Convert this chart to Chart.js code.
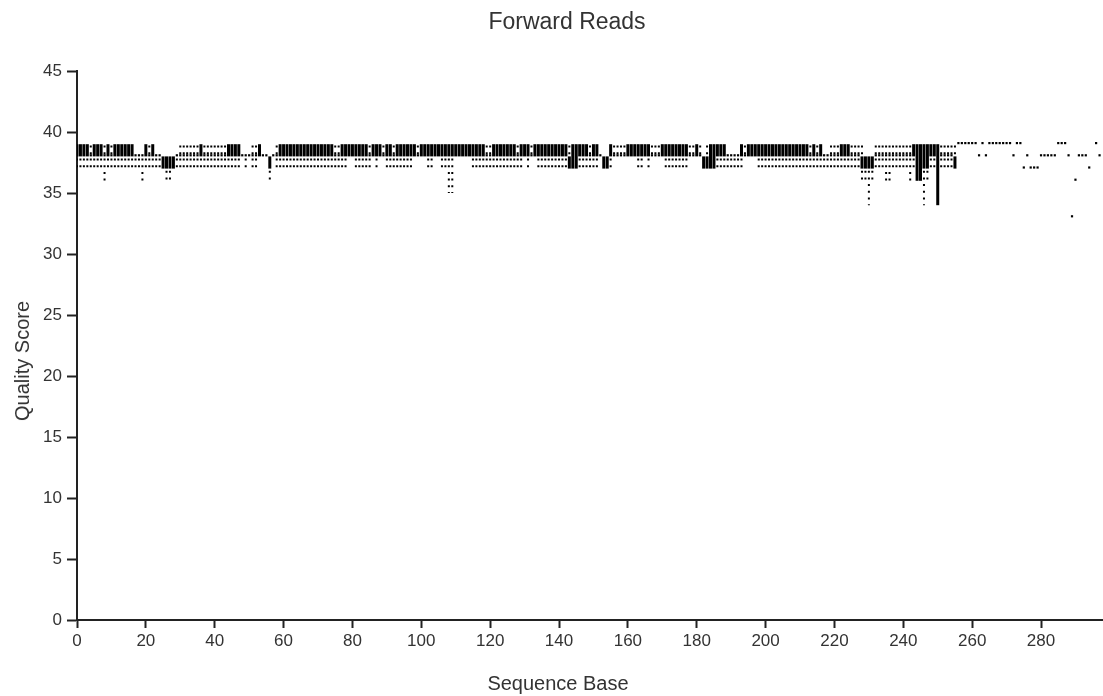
<!DOCTYPE html>
<html>
<head>
<meta charset="utf-8">
<title>Forward Reads</title>
<script src="https://cdn.jsdelivr.net/npm/chart.js@4.4.1/dist/chart.umd.min.js"></script>
<style>
  html, body { margin: 0; padding: 0; background: #fff; }
  #wrap { position: relative; width: 1103px; height: 696px; overflow: hidden;
          font-family: "Liberation Sans", Arial, sans-serif; color: #333; }
  #chart { position: absolute; left: 0; top: 0; }
  .t { position: absolute; white-space: nowrap; line-height: 1; }
  #title  { left: 567px; top: 10px;  font-size: 23px; transform: translateX(-50%); }
  #xtitle { left: 558px; top: 673px; font-size: 20px; transform: translateX(-50%); }
  #ytitle { left: 21.5px; top: 361px; font-size: 20px; transform: translate(-50%, -50%) rotate(-90deg); }
</style>
</head>
<body>
<div id="wrap">
  <canvas id="chart" width="1103" height="696"></canvas>
  <div class="t" id="title">Forward Reads</div>
  <div class="t" id="xtitle">Sequence Base</div>
  <div class="t" id="ytitle">Quality Score</div>
</div>
<script>
// Per-base quality summary: one entry per sequence position (index = base 0..297).
// boxLow/boxHigh: lower and upper quartile, whiskerLow/whiskerHigh: min and max score.

const boxLow = [
  38,38,38,38,38,38,38,38,38,38, 38,38,38,38,38,38,38,38,38,38,
  38,38,38,38,38,37,37,37,37,38, 38,38,38,38,38,38,38,38,38,38,
  38,38,38,38,38,38,38,38,38,38, 38,38,38,38,38,38,37,38,38,38,
  38,38,38,38,38,38,38,38,38,38, 38,38,38,38,38,38,38,38,38,38,
  38,38,38,38,38,38,38,38,38,38, 38,38,38,38,38,38,38,38,38,38,
  38,38,38,38,38,38,38,38,38,38, 38,38,38,38,38,38,38,38,38,38,
  38,38,38,38,38,38,38,38,38,38, 38,38,38,38,38,38,38,38,38,38,
  38,38,38,37,37,37,38,38,38,38, 38,38,38,37,37,38,38,38,38,38,
  38,38,38,38,38,38,38,38,38,38, 38,38,38,38,38,38,38,38,38,38,
  38,38,37,37,37,37,38,38,38,38, 38,38,38,38,38,38,38,38,38,38,
  38,38,38,38,38,38,38,38,38,38, 38,38,38,38,38,38,38,38,38,38,
  38,38,38,38,38,38,38,38,37,37, 37,37,38,38,38,38,38,38,38,38,
  38,38,38,38,36,36,37,37,38,38, 34,38,38,38,38,37,39,39,39,39,
  39,39,38,39,38,39,39,39,39,39, 39,39,38,39,39,37,38,37,37,37,
  38,38,38,38,38,39,39,39,38,33, 36,38,38,38,37,null,39,38
];

const boxHigh = [
  39,39,39,39,38,39,39,39,38,39, 38,39,39,39,39,39,39,38,38,38,
  39,38,39,38,38,38,38,38,38,38, 38,38,38,38,38,38,39,38,38,38,
  38,38,38,38,39,39,39,39,38,38, 38,38,38,39,38,38,38,38,38,39,
  39,39,39,39,39,39,39,39,39,39, 39,39,39,39,39,38,38,39,39,39,
  39,39,39,39,39,38,39,39,39,38, 39,39,38,39,39,39,39,39,39,38,
  39,39,39,39,39,39,39,39,39,39, 39,39,39,39,39,39,39,39,39,38,
  38,39,39,39,39,39,39,39,38,39, 39,39,38,39,39,39,39,39,39,39,
  39,39,39,38,39,39,39,39,39,38, 39,39,38,38,38,39,38,38,38,38,
  39,39,39,39,39,39,39,38,38,38, 39,39,39,39,39,39,39,39,38,38,
  39,38,38,38,39,39,39,39,39,38, 38,38,38,39,38,39,39,39,39,39,
  39,39,39,39,39,39,39,39,39,39, 39,39,39,38,39,38,39,38,38,38,
  38,38,39,39,39,38,38,38,38,38, 38,38,38,38,38,38,38,38,38,38,
  38,38,38,39,39,39,39,39,39,39, 39,38,38,38,38,38,39,39,39,39,
  39,39,38,39,38,39,39,39,39,39, 39,39,38,39,39,37,38,37,37,37,
  38,38,38,38,38,39,39,39,38,33, 36,38,38,38,37,null,39,38
];

const whiskerLow = [
  37,37,37,37,37,37,37,37,36,37, 37,37,37,37,37,37,37,37,37,36,
  37,37,37,37,37,37,36,36,37,37, 37,37,37,37,37,37,37,37,37,37,
  37,37,37,37,37,37,37,37,38,37, 38,37,37,38,38,38,36,38,37,37,
  37,37,37,37,37,37,37,37,37,37, 37,37,37,37,37,37,37,37,37,38,
  38,37,37,37,37,37,38,37,38,38, 37,37,37,37,37,37,37,37,38,38,
  38,38,37,37,38,38,37,37,35,35, 38,38,38,38,38,37,37,37,37,37,
  37,37,37,37,37,37,37,37,37,37, 38,37,38,38,37,37,37,37,37,37,
  37,37,37,37,37,37,37,37,37,37, 37,37,38,37,37,37,38,38,38,38,
  38,38,38,37,37,38,37,38,38,38, 38,37,37,37,37,37,37,37,38,38,
  38,38,37,37,37,37,37,37,37,37, 37,37,37,37,38,38,38,38,37,37,
  37,37,37,37,37,37,37,37,37,37, 37,37,37,37,37,37,37,37,37,37,
  37,37,37,37,37,37,37,37,36,36, 34,36,37,37,37,36,36,37,37,37,
  37,37,36,37,36,36,34,36,37,37, 34,37,37,37,37,37,39,39,39,39,
  39,39,38,39,38,39,39,39,39,39, 39,39,38,39,39,37,38,37,37,37,
  38,38,38,38,38,39,39,39,38,33, 36,38,38,38,37,null,39,38
];

const whiskerHigh = [
  39,39,39,39,39,39,39,39,39,39, 39,39,39,39,39,39,39,38,38,38,
  39,39,39,38,38,38,38,38,38,38, 39,39,39,39,39,39,39,39,39,39,
  39,39,39,39,39,39,39,39,38,38, 38,39,39,39,38,38,38,38,39,39,
  39,39,39,39,39,39,39,39,39,39, 39,39,39,39,39,39,39,39,39,39,
  39,39,39,39,39,39,39,39,39,39, 39,39,39,39,39,39,39,39,39,39,
  39,39,39,39,39,39,39,39,39,39, 39,39,39,39,39,39,39,39,39,39,
  39,39,39,39,39,39,39,39,39,39, 39,39,39,39,39,39,39,39,39,39,
  39,39,39,39,39,39,39,39,39,39, 39,39,38,38,38,39,39,39,39,39,
  39,39,39,39,39,39,39,39,39,39, 39,39,39,39,39,39,39,39,39,39,
  39,39,38,39,39,39,39,39,39,38, 38,38,38,39,39,39,39,39,39,39,
  39,39,39,39,39,39,39,39,39,39, 39,39,39,39,39,39,39,38,38,39,
  39,39,39,39,39,39,39,39,39,38, 38,38,39,39,39,39,39,39,39,39,
  39,39,39,39,39,39,39,39,39,39, 39,39,39,39,39,39,39,39,39,39,
  39,39,38,39,38,39,39,39,39,39, 39,39,38,39,39,37,38,37,37,37,
  38,38,38,38,38,39,39,39,38,33, 36,38,38,38,37,null,39,38
];

// Axis ranges and tick steps
const xRange = [0, 298];
const yRange = [0, 45];
const xStep = 20;
const yStep = 5;

// Boxes with a spread as floating bars, single-score positions as small marks,
// whiskers as dashed vertical line pieces separated by gaps
const boxes = [];
const marks = [];
const whiskers = [];
boxLow.forEach((q1, i) => {
  if (q1 === null) return;
  const q3 = boxHigh[i];
  (q3 > q1 ? boxes : marks).push({ x: i, y: [q1, q3] });
  if (whiskerLow[i] < q1) {
    whiskers.push({ x: i, y: q1 }, { x: i, y: whiskerLow[i] }, { x: i, y: null });
  }
  if (whiskerHigh[i] > q3) {
    whiskers.push({ x: i, y: q3 }, { x: i, y: whiskerHigh[i] }, { x: i, y: null });
  }
});

const tickFont = { family: "'Liberation Sans', Arial, sans-serif", size: 17 };
const inkColor = '#222';

new Chart(document.getElementById('chart'), {
  type: 'bar',
  data: {
    datasets: [
      {
        type: 'bar',
        data: boxes,
        backgroundColor: '#000',
        borderWidth: 0,
        barThickness: 3,
        inflateAmount: 0,
        grouped: false
      },
      {
        type: 'bar',
        data: marks,
        backgroundColor: '#000',
        borderWidth: 0,
        barThickness: 2.2,
        minBarLength: 2.2,
        inflateAmount: 0,
        grouped: false
      },
      {
        type: 'line',
        data: whiskers,
        borderColor: '#000',
        borderWidth: 2,
        borderDash: [2, 4.7],
        borderDashOffset: 4.6,
        borderCapStyle: 'butt',
        pointRadius: 0,
        spanGaps: false,
        tension: 0
      }
    ]
  },
  options: {
    responsive: false,
    animation: false,
    events: [],
    layout: { padding: { top: 71, right: 0, bottom: 0, left: 0 } },
    plugins: {
      legend: { display: false },
      tooltip: { enabled: false },
      title: { display: false }
    },
    scales: {
      x: {
        type: 'linear',
        min: xRange[0],
        max: xRange[1],
        offset: false,
        ticks: {
          stepSize: xStep, includeBounds: false, autoSkip: false, maxRotation: 0,
          color: '#333', font: tickFont, padding: 3
        },
        grid: {
          offset: false, drawOnChartArea: false, drawTicks: true,
          tickLength: 8, tickWidth: 2, tickColor: inkColor
        },
        border: { display: true, color: inkColor, width: 2 },
        afterFit(scale) { scale.height = 76; }
      },
      y: {
        type: 'linear',
        min: yRange[0],
        max: yRange[1],
        ticks: { stepSize: yStep, color: '#333', font: tickFont, padding: 5 },
        grid: {
          drawOnChartArea: false, drawTicks: true,
          tickLength: 10, tickWidth: 2, tickColor: inkColor
        },
        border: { display: true, color: inkColor, width: 2 },
        afterFit(scale) { scale.width = 77; }
      }
    }
  }
});
</script>
</body>
</html>
